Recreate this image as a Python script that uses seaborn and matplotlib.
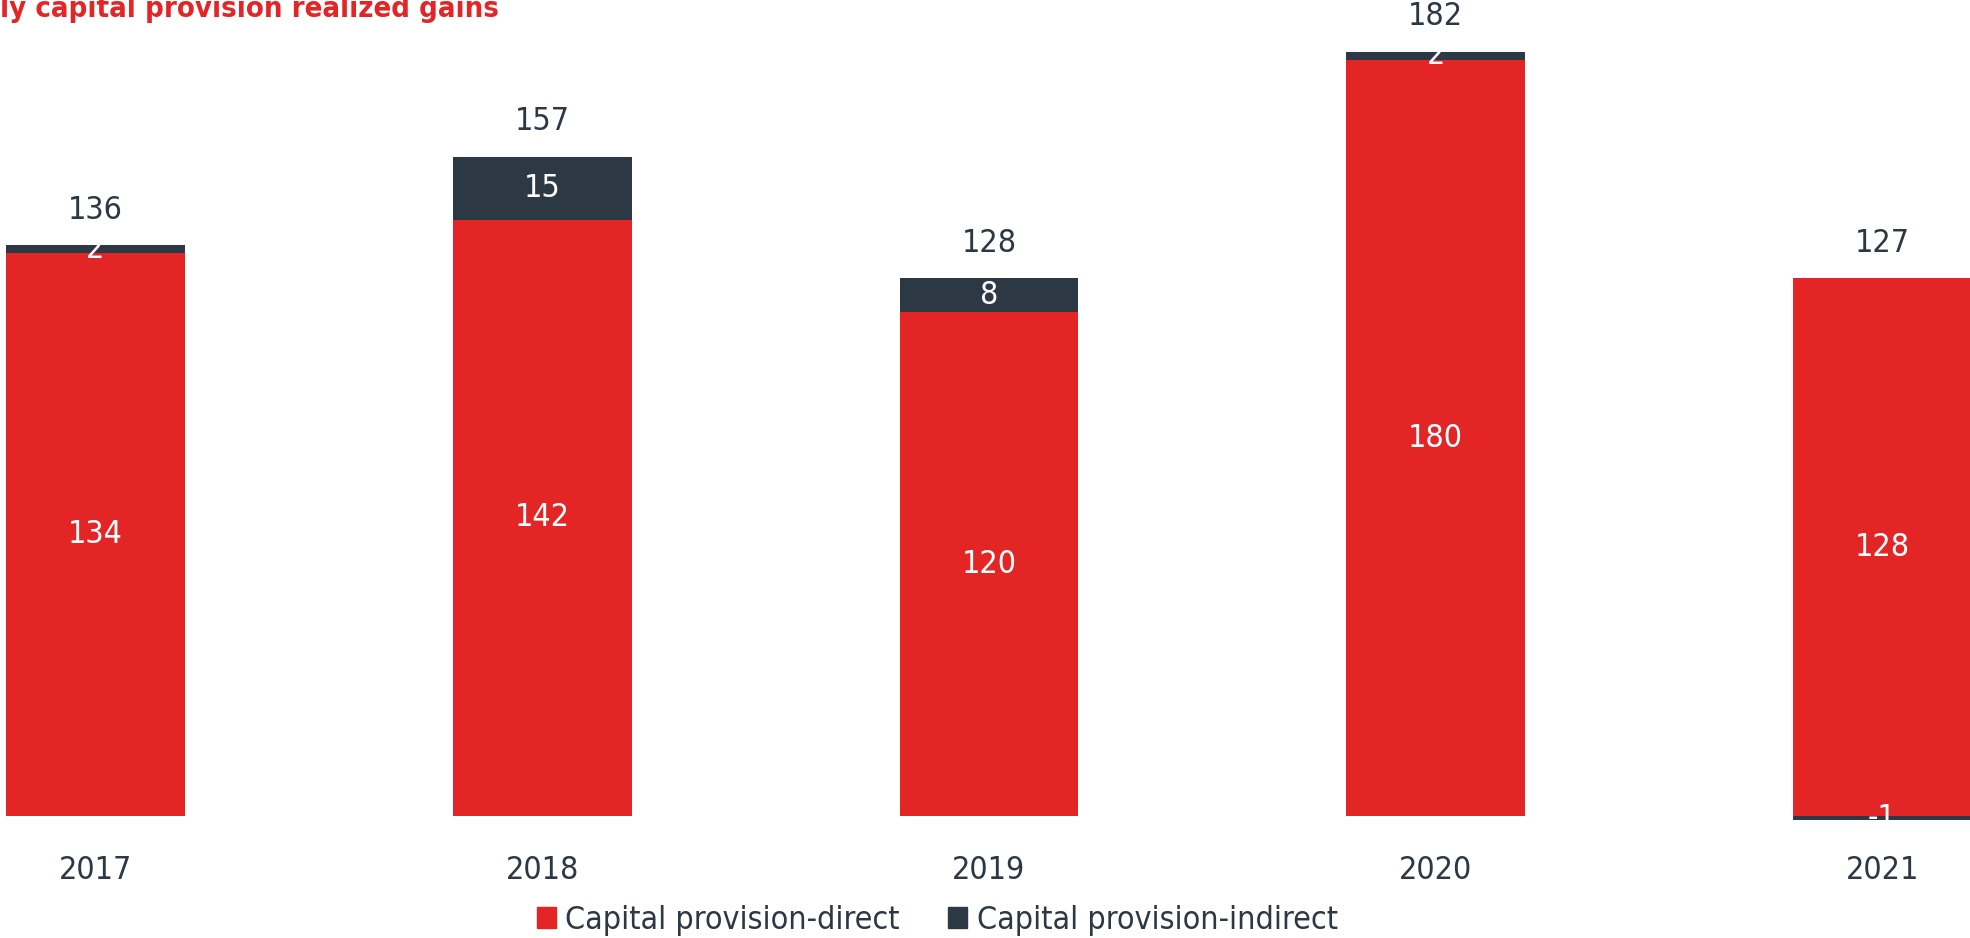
import numpy as np
import pandas as pd
import matplotlib
matplotlib.use("Agg")
import matplotlib.pyplot as plt
import seaborn as sns
from matplotlib.patches import Patch

# data
years = ['2017', '2018', '2019', '2020', '2021']
direct = [134, 142, 120, 180, 128]
indirect = [2, 15, 8, 2, -1]
series_names = ['Capital provision-direct', 'Capital provision-indirect']
title_text = "ly capital provision realized gains"

red = '#E32526'
dark = '#2D3845'

sns.set_theme(style='white')
plt.rcParams['font.family'] = ['DejaVu Sans']
plt.rcParams['font.stretch'] = 'condensed'

df = pd.DataFrame({'year': years, 'direct': direct, 'indirect': indirect})
df['total'] = df['direct'] + df['indirect']

fig = plt.figure(figsize=(19.7, 9.38), dpi=100)
ax = fig.add_axes([0, 0.1077, 1, 0.873])

sns.barplot(data=df, x='year', y='direct', color=red, width=0.4,
            saturation=1, linewidth=0, ax=ax)
# stacked second series (negative values hang from zero)
pos = np.arange(len(years))
bottoms = np.where(df['indirect'] >= 0, df['direct'], 0)
ax.bar(pos, df['indirect'], bottom=bottoms, width=0.4, color=dark, linewidth=0)

ax.set_xlim(-0.2137, 4.196)
ax.set_ylim(-5, 190)

# labels inside the segments
for i in range(len(years)):
    d = df['direct'][i]
    ind = df['indirect'][i]
    ax.text(i, d / 2, str(d), ha='center', va='center', color='white', fontsize=23)
    ax.text(i, bottoms[i] + ind / 2, str(ind), ha='center', va='center',
            color='white', fontsize=23)
    top = max(d, d + ind)
    ax.annotate(str(df['total'][i]), (i, top), xytext=(0, 25),
                textcoords='offset points', ha='center', va='center',
                color=dark, fontsize=23)

ax.set_xlabel('')
ax.set_ylabel('')
ax.set_yticks([])
ax.tick_params(axis='x', length=0, pad=13, labelsize=23, labelcolor=dark)
sns.despine(ax=ax, left=True, bottom=True)

fig.text(0.0, 1 - 17 / 938, title_text, ha='left', va='baseline', color=red,
         fontsize=21, fontweight='bold')

handles = [Patch(color=red), Patch(color=dark)]
fig.legend(handles, series_names, loc='center', bbox_to_anchor=(0.4757, 0.019),
           ncol=2, frameon=False, fontsize=23, handlelength=0.6, handleheight=0.6,
           handletextpad=0.3, columnspacing=1.5, labelcolor=dark)

fig.savefig('out.png', dpi=100)
